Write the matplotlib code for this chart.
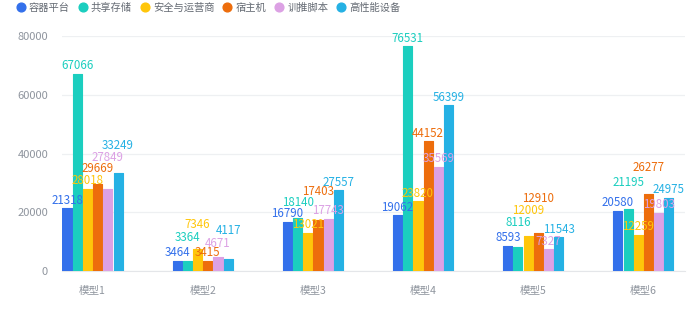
import numpy as np
import matplotlib.pyplot as plt
from matplotlib.lines import Line2D

plt.rcParams['font.family'] = ['Noto Sans CJK SC', 'DejaVu Sans']

# 数据
models = ['模型1', '模型2', '模型3', '模型4', '模型5', '模型6']
series = ['容器平台', '共享存储', '安全与运营商', '宿主机', '训推脚本', '高性能设备']
container = [21318, 3464, 16790, 19062, 8593, 20580]
storage = [67066, 3364, 18140, 76531, 8116, 21195]
security = [28018, 7346, 13021, 23820, 12009, 12259]
host = [29669, 3415, 17403, 44152, 12910, 26277]
train = [27849, 4671, 17743, 35569, 7327, 19803]
hpc = [33249, 4117, 27557, 56399, 11543, 24975]
values = [container, storage, security, host, train, hpc]

colors = ['#3370EB', '#1BCEBF', '#FFC60A', '#ED6D0C', '#DCA1E4', '#25B1E4']

# 标签重叠时向上挪动的像素 (按系列, 每个模型一个)
label_shift = [
    [0, 0, 0, 0, 0, 0],
    [0, 16, 7, 0, 17, 18],
    [0, 17, 0, 0, 17, 0],
    [7, 0, 20, 0, 27, 18],
    [24, 6, 0, 0, 0, 0],
    [20, 20, 0, 0, 0, 0],
]

fig = plt.figure(figsize=(6.9, 3.12), dpi=100)
ax = fig.add_axes([62 / 690, 41 / 312, 623 / 690, 235 / 312])

x = np.arange(len(models))
pitch = 0.0926
width = 0.082
for i, (name, vals, c) in enumerate(zip(series, values, colors)):
    pos = x + (i - 2.5) * pitch
    ax.bar(pos, vals, width=width, color=c, edgecolor=c, linewidth=0.8,
           joinstyle='round', zorder=3, label=name)
    for j, v in enumerate(vals):
        ax.annotate(str(v), (pos[j], v), xytext=(0, 8 + label_shift[i][j]),
                    textcoords='offset pixels', ha='center', va='center',
                    fontsize=8.3, color=c, zorder=4, annotation_clip=False)

ax.set_xlim(-0.277, 5.377)
ax.set_ylim(0, 80000)
ax.set_yticks([0, 20000, 40000, 60000, 80000])
ax.set_xticks(x)
ax.set_xticklabels(models)
ax.tick_params(length=0, labelsize=7.6, colors='#8F959E')
ax.tick_params(axis='y', labelsize=8.0, pad=10)
ax.tick_params(axis='x', pad=11)
ax.grid(axis='y', color='#EEF0F2', linewidth=0.9, zorder=0)
for s in ['top', 'right', 'left']:
    ax.spines[s].set_visible(False)
ax.spines['bottom'].set_color('#E4E6E9')

handles = [Line2D([], [], marker='o', linestyle='', markersize=6.3,
                  markerfacecolor=c, markeredgecolor=c) for c in colors]
fig.legend(handles, series, loc='upper left', bbox_to_anchor=(0.012, 1.022),
           ncol=6, frameon=False, fontsize=7.4, handlelength=0.6,
           handletextpad=0.5, columnspacing=0.95, labelcolor='#646A73')

fig.savefig('out.png', dpi=100)
